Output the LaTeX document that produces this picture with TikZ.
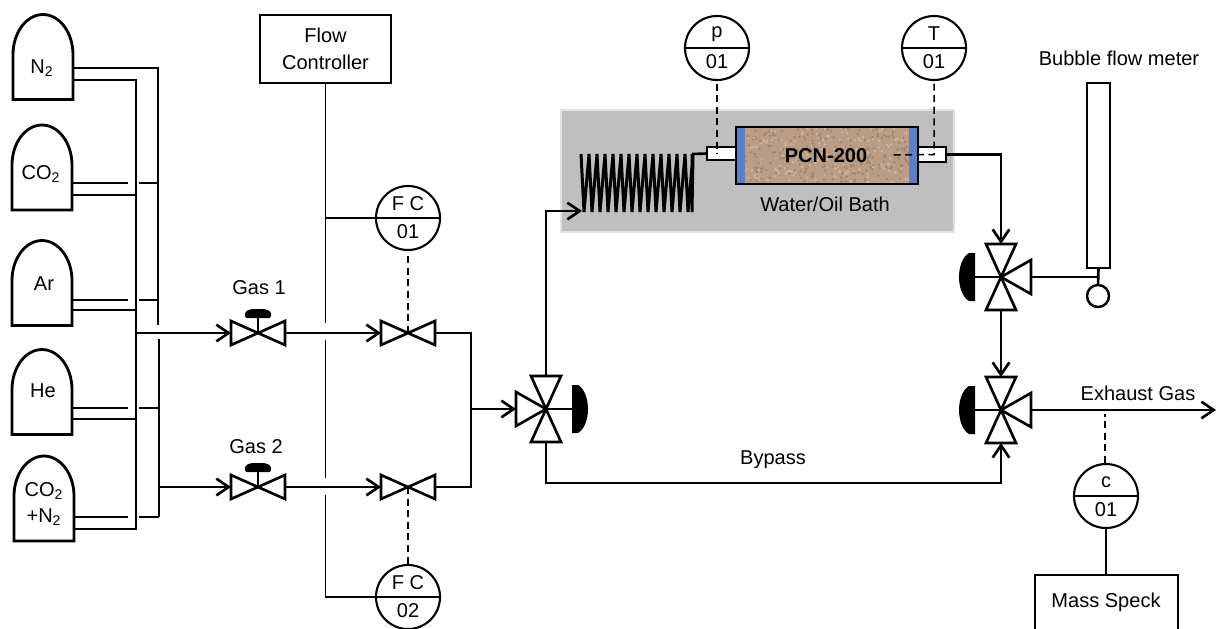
\documentclass[tikz,border=0pt]{standalone}
\usepackage{fontspec}
\setmainfont{Liberation Sans}
\usetikzlibrary{arrows.meta}

\definecolor{bathgray}{RGB}{191,191,191}
\definecolor{bathedge}{RGB}{226,226,226}
\definecolor{sandtan}{RGB}{186,157,132}
\definecolor{sanddark}{RGB}{160,130,106}
\definecolor{sandlight}{RGB}{208,184,160}
\definecolor{frit}{RGB}{92,128,196}

\tikzset{
  every node/.style={font=\fontsize{11.4}{15}\selectfont, inner sep=0pt, outer sep=0pt},
  pipe/.style={line width=0.85pt},
  flow/.style={line width=1.5pt},
  flowto/.style={flow, -{Straight Barb[length=7pt,width=9.5pt,line width=1.5pt]}},
  signal/.style={line width=0.85pt, dash pattern=on 4pt off 2.6pt},
  vessel/.style={line width=1.5pt},
  bottle/.style={minimum width=12mm, minimum height=17mm},
  gauge/.style={circle, draw, line width=1.2pt, minimum size=12.8mm},
  unitbox/.style={draw, line width=1.2pt, align=center},
  tube/.style={draw, line width=1.4pt, fill=white},
  twoway/.pic={
    \draw[vessel, fill=white] (0,0) -- (-27,-12) -- (-27,12) -- cycle;
    \draw[vessel, fill=white] (0,0) -- (27,-12) -- (27,12) -- cycle;
    \coordinate (-c) at (0,0);
    \coordinate (-w) at (-27,0);
    \coordinate (-e) at (27,0);
  },
  handwheel/.pic={
    \draw[flow] (0,0) -- (0,-16);
    \fill[rounded corners=1.2pt] (-13,-15) -- (-13,-21) -- (-8,-24) -- (8,-24) -- (13,-21) -- (13,-15) -- cycle;
  },
  threeway/.pic={
    \draw[flow] (0,0) -- (26,0);
    \fill (26,-24) -- (32,-24) .. controls (39,-20) and (42,-9) .. (42,0) .. controls (42,9) and (39,20) .. (32,24) -- (26,24) -- cycle;
    \draw[vessel, fill=white] (0,0) -- (-15,-33) -- (15,-33) -- cycle;
    \draw[vessel, fill=white] (0,0) -- (-15,33) -- (15,33) -- cycle;
    \draw[vessel, fill=white] (0,0) -- (-30,-17) -- (-30,17) -- cycle;
    \coordinate (-n) at (0,-33);
    \coordinate (-s) at (0,33);
    \coordinate (-port) at (-30,0);
  },
}

\newcommand{\gasbottle}[3]{
  \node[bottle] (#1) at (#2,#3) {};
  \draw[vessel, line width=1.6pt] (#1.south west) -- (#1.south east) -- ([yshift=9mm]#1.south east)
    .. controls +(0,-22) and +(16.5,0) .. (#1.north)
    .. controls +(-16.5,0) and +(0,-22) .. ([yshift=9mm]#1.south west) -- cycle;
}
\newcommand{\gaugering}[5]{
  \node[gauge] (#1) at (#2,#3) {};
  \draw[line width=1.2pt] (#1.west) -- (#1.east);
  \node (#1top) at (#2,#3-14) {#4};
  \node (#1num) at (#2,#3+14) {#5};
}

\begin{document}
\begin{tikzpicture}[x=0.2mm, y=-0.2mm]
  \clip[use as bounding box] (0,0) rectangle (1216,628);

  % gas bottles
  \gasbottle{botN}{43}{57}
  \gasbottle{botC}{42}{167.5}
  \gasbottle{botA}{42}{283}
  \gasbottle{botH}{42}{392}
  \gasbottle{botM}{44}{498.5}
  \node (txtN) at (42,68) {N\textsubscript{2}};
  \node (txtC) at (41,174) {CO\textsubscript{2}};
  \node (txtA) at (44,284) {Ar};
  \node (txtH) at (43,391) {He};
  \node[align=center] (txtM) at (44,504) {CO\textsubscript{2}\\+N\textsubscript{2}};

  % manifold
  \coordinate (hubA) at (136,333);
  \coordinate (hubB) at (159,487);
  \draw[pipe] (botN.east |- 0,68) -- (158,68) -- (158,325);
  \draw[pipe] (159,339) -- (159,517);
  \draw[pipe] (botN.east |- 0,80) -- (136,80) -- (136,529) -- (botM.east |- 0,529);
  \foreach \bot/\ya/\yb in {botC/183/195, botA/300/310, botH/408/419}{
    \draw[pipe] (\bot.east |- 0,\ya) -- (128,\ya);
    \draw[pipe] (139,\ya) -- (158,\ya);
    \draw[pipe] (\bot.east |- 0,\yb) -- (136,\yb);
  }
  \draw[pipe] (botM.east |- 0,517) -- (128,517);
  \draw[pipe] (139,517) -- (159,517);

  % valves
  \pic (gasA) at (258,333) {handwheel};
  \pic (gasA) at (258,333) {twoway};
  \pic (gasB) at (258,487) {handwheel};
  \pic (gasB) at (258,487) {twoway};
  \pic (fcvA) at (408,333) {twoway};
  \pic (fcvB) at (408,487) {twoway};
  \pic (mixV) at (546,409) {threeway};
  \pic[xscale=-1] (outA) at (1001,277) {threeway};
  \pic[xscale=-1] (outB) at (1001,410) {threeway};
  \node (lblA) at (259,288) {Gas 1};
  \node (lblB) at (256,447) {Gas 2};

  % flow controller
  \node[unitbox, minimum width=26.2mm, minimum height=13.6mm] (ctrl) at (325.5,49) {Flow\\Controller};
  \gaugering{fcA}{408}{218}{F C}{01}
  \gaugering{fcB}{408}{597}{F C}{02}
  \draw[pipe] (ctrl.south) -- (325.5,323);
  \draw[pipe] (325.5,340) -- (325.5,478);
  \draw[pipe] (325.5,495) -- (325.5,597) -- (fcB.west);
  \draw[pipe] (325.5,218) -- (fcA.west);
  \draw[signal, shorten <=3.5pt] (fcA.south) -- (fcvA-c);
  \draw[signal] (fcvB-c) -- (fcB.north);

  \draw[flowto] (hubA) -- (gasA-w);
  \draw[flowto] (hubB) -- (gasB-w);
  \draw[flowto] (gasA-e) -- (fcvA-w);
  \draw[flowto] (gasB-e) -- (fcvB-w);
  \coordinate (joinM) at (471,409);
  \draw[flow] (fcvA-e) -| (joinM);
  \draw[flow] (fcvB-e) -| (joinM);
  \draw[flowto] (joinM) -- (mixV-port);

  % bath and reactor
  \node[draw=bathedge, fill=bathgray, line width=1pt, minimum width=78.6mm, minimum height=24.4mm] (bath) at (757.5,171) {};
  \node[tube, minimum width=5.8mm, minimum height=2.6mm] (tubeA) at (721.5,153.5) {};
  \node[tube, minimum width=5.6mm, minimum height=3mm] (tubeB) at (932,154.5) {};
  \node[fill=sandtan, minimum width=36.4mm, minimum height=11.4mm] (reactor) at (827,155.5) {};
  \pgfmathsetseed{7}
  \foreach \i in {1,...,420}{
    \pgfmathsetmacro{\dotx}{827+88*rand}
    \pgfmathsetmacro{\doty}{155.5+27*rand}
    \pgfmathparse{rand>0 ? "sanddark" : "sandlight"}
    \fill[\pgfmathresult] (\dotx,\doty) circle (1.3);
  }
  \fill[frit] (reactor.south west) rectangle ([xshift=1.8mm]reactor.north west);
  \fill[frit] (reactor.south east) rectangle ([xshift=-1.8mm]reactor.north east);
  \draw[flow] (reactor.south west) rectangle (reactor.north east);
  \node[font=\fontsize{11.4}{15}\selectfont\bfseries] (pcn) at (826,156) {PCN-200};
  \node (bathtxt) at (825,204) {Water/Oil Bath};

  % coil
  \coordinate (coilIn) at (582,211);
  \coordinate (coilOut) at (692,154);
  \draw[line width=1.7pt, line join=bevel] (581,154) foreach \i in {0,...,13}{ -- ({584+8*\i},212) -- ({589+8*\i},154) } -- (692,212) -- (coilOut);
  \draw[flow] (coilOut) -- (tubeA.west);

  \draw[flowto] (mixV-n) |- (coilIn);
  \draw[flowto] (mixV-s) |- (1001,483) -- (outB-s);
  \draw[flowto] (tubeB.east) -| (outA-n);
  \draw[flowto] (outA-s) -- (outB-n);

  % instruments above the bath
  \gaugering{pG}{717}{48}{p}{01}
  \gaugering{tG}{934}{48}{T}{01}
  \coordinate (tempTip) at (893,155);
  \draw[signal, shorten <=2pt] (pG.south) -- (pG.south |- tubeA.center);
  \draw[signal, shorten <=2pt] (tG.south) -- (tG.south |- tubeB.center) -- (tempTip);

  % bubble flow meter
  \node (bubtxt) at (1119,58) {Bubble flow meter};
  \node[draw, line width=1.4pt, minimum width=4.6mm, minimum height=37mm] (meter) at (1098.5,175.5) {};
  \node[circle, draw, line width=1.4pt, minimum size=4.4mm] (bulb) at (1098,296) {};
  \draw[flow] (meter.south) -- (bulb.north);
  \draw[flow] (outA-port) -- (1098,277);

  % exhaust side
  \coordinate (exhaustEnd) at (1216,410);
  \coordinate (sampleTap) at (1105,414);
  \draw[flowto] (outB-port) -- (exhaustEnd);
  \node (exhtxt) at (1138,393) {Exhaust Gas};
  \node (bypass) at (773,460) {Bypass};
  \gaugering{cG}{1106}{496}{c}{01}
  \draw[signal] (1105,463) -- (sampleTap);
  \node[unitbox, minimum width=28.6mm, minimum height=12mm] (massbox) at (1106.5,605) {};
  \node (masstxt) at (1106,602) {Mass Speck};
  \draw[pipe] (cG.south) -- (massbox.north -| cG.south);
\end{tikzpicture}
\end{document}
